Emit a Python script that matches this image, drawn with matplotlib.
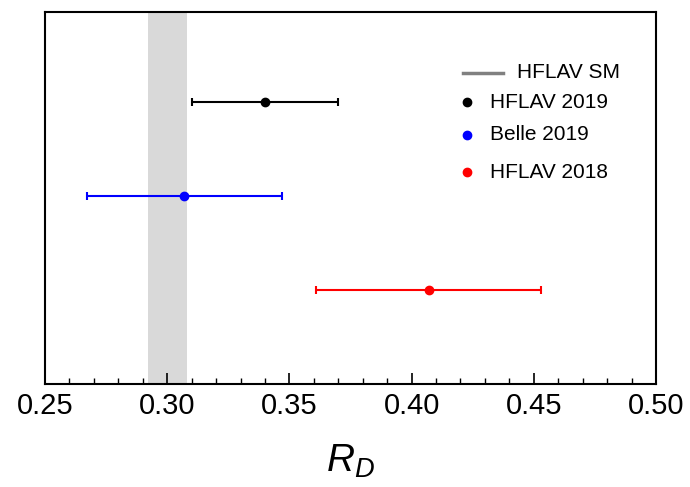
import matplotlib.pyplot as plt

# measurements of R_D
labels = ["HFLAV 2019", "Belle 2019", "HFLAV 2018"]
values = [0.340, 0.307, 0.407]
errors = [0.030, 0.040, 0.046]
colors = ["black", "blue", "red"]
rows = [3, 2, 1]

# SM prediction band
sm_label = "HFLAV SM"
sm_value = 0.300
sm_error = 0.008

plt.rcParams['font.family'] = ['Liberation Sans', 'DejaVu Sans']
plt.rcParams['mathtext.fontset'] = 'custom'
plt.rcParams['mathtext.it'] = 'Liberation Sans:italic'
plt.rcParams['mathtext.rm'] = 'Liberation Sans'

W, H = 690, 487
fig = plt.figure(figsize=(6.9, 4.87), dpi=100)
ax = fig.add_axes([45 / W, 1 - 384 / H, 611 / W, 372 / H])

ax.axvspan(sm_value - sm_error, sm_value + sm_error, color='#d9d9d9', lw=0, zorder=0)

for v, e, c, r in zip(values, errors, colors, rows):
    ax.errorbar(v, r, xerr=e, fmt='o', color=c, ms=6, elinewidth=1.5,
                capsize=3, capthick=1.5, zorder=3)

ax.set_xlim(0.25, 0.50)
ax.set_ylim(0, 3.96)
ax.set_xticks([0.25, 0.30, 0.35, 0.40, 0.45, 0.50])
ax.set_xticklabels(["0.25", "0.30", "0.35", "0.40", "0.45", "0.50"])
ax.set_xticks([0.25 + 0.01 * i for i in range(26)], minor=True)
ax.set_yticks([])
ax.tick_params(axis='x', which='major', direction='in', length=8, width=1.2,
               labelsize=21, pad=6)
ax.tick_params(axis='x', which='minor', direction='in', length=4, width=1.0)
for s in ax.spines.values():
    s.set_linewidth(1.5)

ax.set_xlabel("$R_D$", fontsize=28, labelpad=16)

# legend entries drawn by hand (figure pixel positions)
fig.add_artist(plt.Line2D([463 / W, 503 / W], [1 - 73 / H, 1 - 73 / H],
                          color='gray', lw=2.5, transform=fig.transFigure))
fig.text(517 / W, 1 - 73 / H, sm_label, fontsize=15, va='center', ha='left')
for lab, c, y in zip(labels, colors, [102, 135, 172]):
    fig.add_artist(plt.Line2D([467 / W], [1 - y / H], ls='none', marker='o', ms=6,
                              color=c, transform=fig.transFigure))
    fig.text(490 / W, 1 - y / H, lab, fontsize=15, va='center', ha='left')

fig.savefig("out.png", dpi=100)
